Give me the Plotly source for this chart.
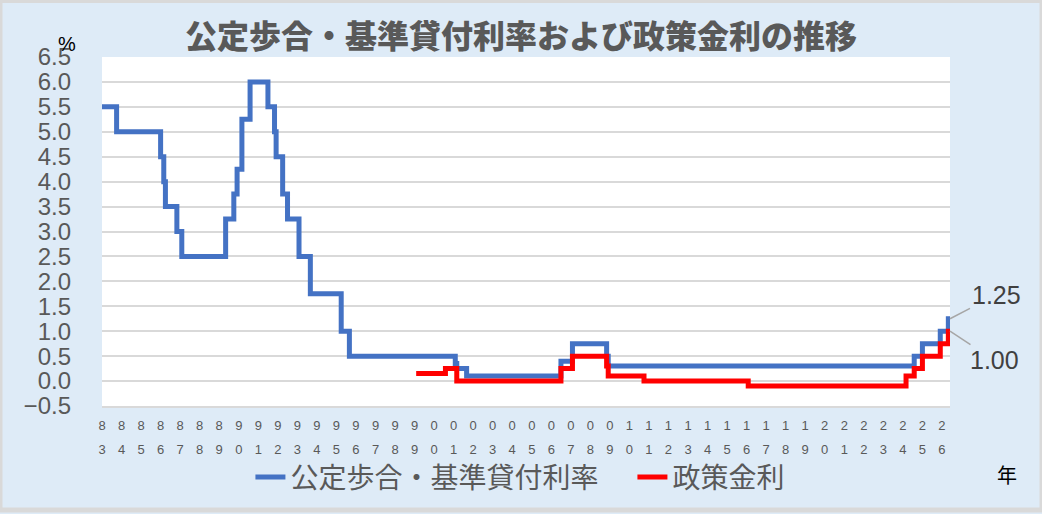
import plotly.graph_objects as go

# ---------------- data ----------------
# 公定歩合・基準貸付利率 : change dates and rates (%)
blue_dates = ["1983-01-01", "1983-10-01", "1986-01-01", "1986-03-01", "1986-04-01",
              "1986-11-01", "1987-02-01", "1989-05-01", "1989-10-01", "1989-12-01",
              "1990-03-01", "1990-08-01", "1991-07-01", "1991-11-01", "1991-12-01",
              "1992-04-01", "1992-07-01", "1993-02-01", "1993-09-01", "1995-04-01",
              "1995-09-01", "2001-02-01", "2001-03-01", "2001-09-01", "2006-07-01",
              "2007-02-01", "2008-11-01", "2008-12-01", "2024-08-01", "2025-01-01",
              "2025-12-01", "2026-05-01", "2026-06-01"]
blue_vals = [5.5, 5.0, 4.5, 4.0, 3.5,
             3.0, 2.5, 3.25, 3.75, 4.25,
             5.25, 6.0, 5.5, 5.0, 4.5,
             3.75, 3.25, 2.5, 1.75, 1.0,
             0.5, 0.35, 0.25, 0.1, 0.4,
             0.75, 0.5, 0.3, 0.5, 0.75,
             1.0, 1.25, 1.25]

# 政策金利 : change dates and rates (%)
red_dates = ["1999-02-01", "2000-08-01", "2001-03-01", "2006-07-01", "2007-02-01",
             "2008-11-01", "2008-12-01", "2010-10-01", "2016-02-01", "2024-03-01",
             "2024-08-01", "2025-01-01", "2025-12-01", "2026-05-01", "2026-06-01"]
red_vals = [0.15, 0.25, 0.0, 0.25, 0.5,
            0.3, 0.1, 0.0, -0.1, 0.1,
            0.25, 0.5, 0.75, 1.0, 1.0]

tick_labels = ["83", "84", "85", "86", "87", "88", "89", "90", "91", "92", "93",
               "94", "95", "96", "97", "98", "99", "00", "01", "02", "03", "04",
               "05", "06", "07", "08", "09", "10", "11", "12", "13", "14", "15",
               "16", "17", "18", "19", "20", "21", "22", "23", "24", "25", "26"]
tick_dates = [f"{1983 + i}-01-01" for i in range(len(tick_labels))]
y_ticks = [-0.5, 0.0, 0.5, 1.0, 1.5, 2.0, 2.5, 3.0, 3.5, 4.0, 4.5, 5.0, 5.5, 6.0, 6.5]

blue_name = "公定歩合・基準貸付利率"
red_name = "政策金利"
title = "公定歩合・基準貸付利率および政策金利の推移"

# ---------------- figure ----------------
W, H = 1042, 514
ML, MR, MT, MB = 102, 92, 57, 105
PW, PH = W - ML - MR, H - MT - MB

x_range = [blue_dates[0], blue_dates[-1]]
GRAY_TXT = "#595959"
CJK = "Noto Sans CJK JP"

fig = go.Figure()
fig.add_trace(go.Scatter(x=blue_dates, y=blue_vals, name=blue_name, mode="lines",
                         line=dict(color="#4472C4", width=5, shape="hv"),
                         xaxis="x", yaxis="y"))
fig.add_trace(go.Scatter(x=red_dates, y=red_vals, name=red_name, mode="lines",
                         line=dict(color="#FF0000", width=5, shape="hv"),
                         xaxis="x2", yaxis="y"))

fig.update_layout(
    width=W, height=H,
    margin=dict(l=ML, r=MR, t=MT, b=MB),
    paper_bgcolor="#DEEBF7",
    plot_bgcolor="#FFFFFF",
    title=dict(text=title, x=0.5, xanchor="center", xref="container",
               y=1 - 37 / H, yanchor="middle", yref="container",
               font=dict(family=CJK, size=32, color=GRAY_TXT, weight=900)),
    xaxis=dict(type="date", range=x_range, tickvals=tick_dates,
               ticktext=[t[0] for t in tick_labels], ticks="", showgrid=False,
               showline=True, linecolor="#D9D9D9", linewidth=2, zeroline=False,
               tickangle=0, ticklabelstandoff=6,
               tickfont=dict(family="Liberation Sans", size=13, color=GRAY_TXT)),
    xaxis2=dict(type="date", range=x_range, overlaying="x", anchor="y", side="bottom",
                tickvals=tick_dates, ticktext=[t[1] for t in tick_labels], ticks="",
                showgrid=False, showline=False, zeroline=False, tickangle=0,
                ticklabelstandoff=34,
                tickfont=dict(family="Liberation Sans", size=13, color=GRAY_TXT)),
    yaxis=dict(range=[-0.5, 6.5], tickvals=y_ticks, tickformat=".1f", ticks="",
               showgrid=True, gridcolor="#D9D9D9", gridwidth=1.5, zeroline=False,
               showline=False, ticklabelstandoff=30,
               tickfont=dict(family="Liberation Sans", size=24, color=GRAY_TXT)),
    legend=dict(orientation="h", x=0.6255, xanchor="center", y=(-(481 - (MT + PH)) / PH),
                yanchor="middle", bgcolor="rgba(0,0,0,0)",
                entrywidth=337, entrywidthmode="pixels",
                font=dict(family=CJK, size=28, color=GRAY_TXT)),
    showlegend=True,
)

# end-point data labels with leader lines
fig.add_annotation(x=blue_dates[-1], y=blue_vals[-1], xref="x", yref="y",
                   text=f"{blue_vals[-1]:.2f}", showarrow=True, arrowhead=0,
                   arrowcolor="#A6A6A6", arrowwidth=1.5, ax=46, ay=-24,
                   font=dict(family="Liberation Sans", size=25, color="#404040"))
fig.add_annotation(x=red_dates[-1], y=red_vals[-1], xref="x", yref="y",
                   text=f"{red_vals[-1]:.2f}", showarrow=True, arrowhead=0,
                   arrowcolor="#A6A6A6", arrowwidth=1.5, ax=44, ay=29,
                   font=dict(family="Liberation Sans", size=25, color="#404040"))

# unit labels
fig.add_annotation(x=(67 - ML) / PW, y=1 + 13 / PH, xref="paper", yref="paper",
                   text="%", showarrow=False, xanchor="center", yanchor="middle",
                   font=dict(family="Liberation Sans", size=20, color="#000000"))
fig.add_annotation(x=(1007 - ML) / PW, y=-(478 - (MT + PH)) / PH, xref="paper", yref="paper",
                   text="年", showarrow=False, xanchor="center", yanchor="middle",
                   font=dict(family=CJK, size=20, color="#000000"))

# chart border
fig.add_shape(type="rect", xref="paper", yref="paper",
              x0=-ML / PW, x1=1 + MR / PW, y0=-MB / PH, y1=1 + MT / PH,
              line=dict(color="#D9D9D9", width=5), fillcolor="rgba(0,0,0,0)")

fig.write_html("out.html", config={"displayModeBar": False},
               post_script="document.body.style.margin='0';")
